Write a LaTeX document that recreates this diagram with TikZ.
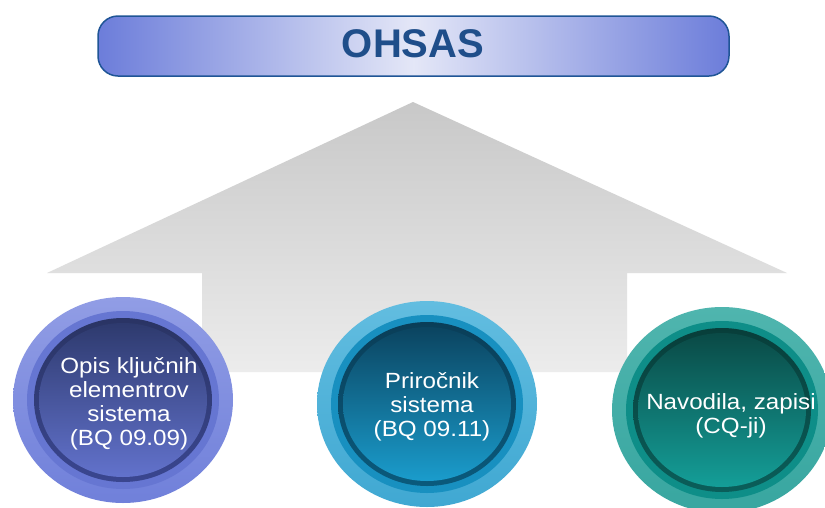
\documentclass[tikz,border=0pt]{standalone}
\usepackage{fontspec}
\setmainfont{Liberation Sans}
\newfontfamily\circfont[FakeStretch=1.1]{Liberation Sans}
\definecolor{arrowTop}{HTML}{C8C8C8}
\definecolor{arrowBot}{HTML}{ECECEC}
\definecolor{bEnd}{HTML}{6C7DDA}
\definecolor{bMid}{HTML}{E4E7F7}
\definecolor{bBorder}{HTML}{1F5596}
\definecolor{ohsasText}{HTML}{1F4E8A}
% left (purple-blue)
\definecolor{pOutT}{HTML}{919DE5}\definecolor{pOutB}{HTML}{7080DA}
\definecolor{pMid}{HTML}{6676D2}
\definecolor{pRimT}{HTML}{2A3464}\definecolor{pRimB}{HTML}{3A4690}
\definecolor{pInT}{HTML}{2E3A6E}\definecolor{pInB}{HTML}{6272CC}
% middle (blue)
\definecolor{bOutT}{HTML}{62BDE0}\definecolor{bOutB}{HTML}{40A8D2}
\definecolor{bMidR}{HTML}{1890C0}
\definecolor{bRimT}{HTML}{0A3E58}\definecolor{bRimB}{HTML}{0A5A7C}
\definecolor{bInT}{HTML}{0B4460}\definecolor{bInB}{HTML}{1A9CCC}
% right (teal)
\definecolor{tOutT}{HTML}{4FB5AE}\definecolor{tOutB}{HTML}{38A6A0}
\definecolor{tMid}{HTML}{0E8E88}
\definecolor{tRimT}{HTML}{083E3A}\definecolor{tRimB}{HTML}{0A5E5A}
\definecolor{tInT}{HTML}{0A4A46}\definecolor{tInB}{HTML}{149E98}
\tikzset{
  circtext/.style={text=white, align=center, font=\circfont\fontsize{22}{24}\selectfont},
  titletext/.style={text=ohsasText, font=\fontsize{40}{40}\selectfont\bfseries}
}
\newcommand{\discset}[7]{%
  \shade[top color=#2, bottom color=#3] #1 ellipse [x radius=110, y radius=103];
  \fill[#4] #1 ellipse [x radius=96, y radius=89];
  \shade[top color=#5, bottom color=#6] #1 ellipse [x radius=89, y radius=82];
  \shade[top color=#7, bottom color=\innerbot] #1 ellipse [x radius=84, y radius=77];
}
\begin{document}
\begin{tikzpicture}[x=1pt,y=-1pt]
\useasboundingbox (0,0) rectangle (825,507);
\clip (0,0) rectangle (825,507);
\fill[white] (0,0) rectangle (825,507);
% house arrow
\shade[top color=arrowTop, bottom color=arrowBot]
  (413,102) -- (787,273) -- (627,273) -- (627,372) -- (202,372) -- (202,273) -- (47,273) -- cycle;
% banner
\shade[left color=bEnd, right color=bEnd, middle color=bMid, draw=bBorder, line width=1.5pt, rounded corners=20pt]
  (98,16) rectangle (729,76);
\node[titletext] (title) at (413,44) {OHSAS};
% discs
\def\innerbot{pInB}
\discset{(123,400)}{pOutT}{pOutB}{pMid}{pRimT}{pRimB}{pInT}
\def\innerbot{bInB}
\discset{(427,404)}{bOutT}{bOutB}{bMidR}{bRimT}{bRimB}{bInT}
\def\innerbot{tInB}
\discset{(722,410)}{tOutT}{tOutB}{tMid}{tRimT}{tRimB}{tInT}
\node[circtext] (opis) at (129,404) {Opis ključnih\\elementrov\\sistema\\(BQ 09.09)};
\node[circtext] (prir) at (432,407) {Priročnik\\sistema\\(BQ 09.11)};
\node[circtext] (navo) at (731,416) {Navodila, zapisi\\(CQ-ji)};
\end{tikzpicture}
\end{document}
